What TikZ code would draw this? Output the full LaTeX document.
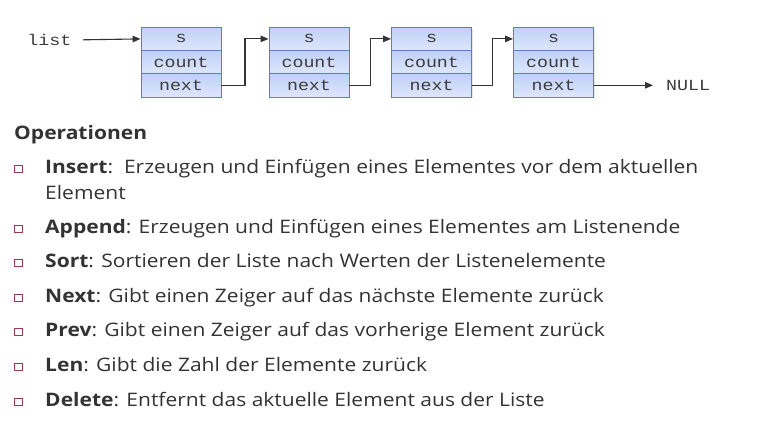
\documentclass[tikz,border=0pt]{standalone}
\usepackage{fontspec}
\usepackage{graphicx}
\setmainfont{Open Sans}
\newfontfamily\monofont{Liberation Mono}
\usetikzlibrary{arrows.meta,shadows,calc}

\definecolor{txt}{HTML}{333333}
\definecolor{cellborder}{HTML}{5B7EC7}
\definecolor{celltop}{HTML}{C0D0F6}
\definecolor{cellbot}{HTML}{DDE6FC}
\definecolor{bulletred}{HTML}{9B3A4E}
\definecolor{monotxt}{HTML}{3C3C3C}
\definecolor{wire}{HTML}{333333}

% wide typewriter lettering used in the list diagram
\newcommand{\wmono}[1]{\scalebox{1.18}[1]{#1}}

\tikzset{
  cell/.style={rectangle, draw=cellborder, line width=0.9pt,
    top color=celltop, bottom color=cellbot,
    minimum width=80pt, minimum height=23.3pt, inner sep=0pt,
    font=\monofont\fontsize{15.5}{15.5}\selectfont, text=monotxt,
    drop shadow={shadow xshift=1pt, shadow yshift=-1.5pt, opacity=.2}},
  monolabel/.style={inner sep=0pt, font=\monofont\fontsize{15.5}{15.5}\selectfont, text=monotxt},
  ptr/.style={draw=wire, line width=1.1pt, -{Triangle[length=8pt,width=6.5pt]}},
  heading/.style={anchor=base west, inner sep=0pt, text=txt,
    font=\fontsize{18.6}{22}\selectfont\bfseries, xscale=1.13, transform shape},
  item/.style={anchor=base west, inner sep=0pt, text=txt,
    font=\fontsize{18.6}{22}\selectfont, xscale=1.13, transform shape},
  bulletbox/.style={draw=bulletred, line width=0.9pt, fill=white,
    minimum size=7.5pt, inner sep=0pt, anchor=south west}
}

\begin{document}
\begin{tikzpicture}[x=1pt,y=-1pt]
\useasboundingbox (0,0) rectangle (761,424);

% list elements: s / count / next
\foreach \i/\cx in {1/181,2/309,3/431.5,4/553.5}{
  \node[cell] (s\i) at (\cx,38.9) {\wmono{s}};
  \node[cell] (c\i) at (\cx,62.1) {\wmono{count}};
  \node[cell] (n\i) at (\cx,85.3) {\wmono{next}};
}

% head pointer
\node[monolabel, anchor=east] (list) at (71.5,40) {\wmono{list}};
\draw[ptr, shorten <=11.5pt] (list.east) -- (s1.west);

% next pointers
\foreach \a/\b in {1/2,2/3,3/4}{
  \draw[ptr] (n\a.east) -| ($(n\a.east)!0.5!(s\b.west)$) |- (s\b.west);
}

% end of list
\node[monolabel, anchor=west] (null) at (666,85.3) {\wmono{NULL}};
\draw[ptr, shorten >=13pt] (n4.east) -- (null.west);

% operations
\node[heading] (ops) at (14,139.5) {Operationen};

\foreach \name/\y in {b1/173,b2/233,b3/267,b4/302,b5/336,b6/371,b7/406}{
  \node[bulletbox] (\name) at (14,\y) {};
}

\node[item] (insert)  at (45,173) {\textbf{Insert}:\ \ Erzeugen und Einfügen eines Elementes vor dem aktuellen};
\node[item] (insert2) at (45,199) {Element};
\node[item] (append)  at (45,233) {\textbf{Append}: Erzeugen und Einfügen eines Elementes am Listenende};
\node[item] (sort)    at (45,267) {\textbf{Sort}: Sortieren der Liste nach Werten der Listenelemente};
\node[item] (next)    at (45,302) {\textbf{Next}: Gibt einen Zeiger auf das nächste Elemente zurück};
\node[item] (prev)    at (45,336) {\textbf{Prev}: Gibt einen Zeiger auf das vorherige Element zurück};
\node[item] (len)     at (45,371) {\textbf{Len}: Gibt die Zahl der Elemente zurück};
\node[item] (delete)  at (45,406) {\textbf{Delete}: Entfernt das aktuelle Element aus der Liste};
\end{tikzpicture}
\end{document}
